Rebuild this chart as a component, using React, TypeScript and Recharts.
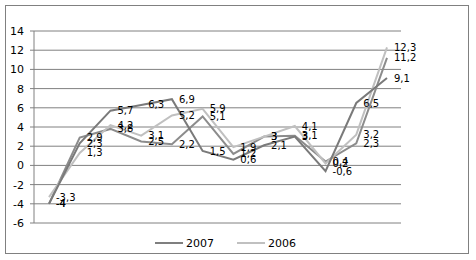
import React from "react";
import { LineChart, Line, XAxis, YAxis, CartesianGrid, LabelList } from "recharts";

const categories = ["1", "2", "3", "4", "5", "6", "7", "8", "9", "10", "11", "12"];
const values2007 = [-4, 2.3, 5.7, 6.3, 6.9, 1.5, 0.6, 2.1, 3, -0.6, 6.5, 9.1];
const valuesOther = [-4, 2.9, 3.8, 2.5, 2.2, 5.1, 1.2, 3, 3.1, 0.4, 2.3, 11.2];
const values2006 = [-3.3, 1.3, 4.2, 3.1, 5.2, 5.9, 1.9, 3, 4.1, 0.2, 3.2, 12.3];
const yTicks = [-6, -4, -2, 0, 2, 4, 6, 8, 10, 12, 14];

const legendItems = [
  { name: "2007", color: "#7f7f7f" },
  { name: "2006", color: "#c0c0c0" },
];

const FONT = "'DejaVu Sans', Verdana, sans-serif";

// tabla para recharts
const data = categories.map((c, i) => ({
  cat: c,
  a: values2007[i],
  b: valuesOther[i],
  c: values2006[i],
}));

const renderLabel = (props: any) => {
  const { x, y, value } = props;
  if (value == null) return null;
  return (
    <text x={x + 7} y={y} dominantBaseline="central" fontSize={10} fontFamily={FONT} fill="#000">
      {String(value).replace(".", ",")}
    </text>
  );
};

export default function App() {
  return (
    <div style={{ position: "absolute", left: 0, top: 0, width: 476, height: 260, background: "#fff" }}>
      <div
        style={{
          position: "absolute",
          left: 5,
          top: 5,
          width: 462,
          height: 247,
          border: "1px solid #808080",
        }}
      />
      <div style={{ position: "absolute", left: 0, top: 0 }}>
        <LineChart width={476} height={260} data={data} margin={{ top: 31, right: 75, left: 0, bottom: 37 }}>
          <CartesianGrid vertical={false} stroke="#808080" />
          <XAxis dataKey="cat" hide padding={{ left: 15, right: 14 }} />
          <YAxis
            width={34}
            domain={[-6, 14]}
            ticks={yTicks}
            interval={0}
            tickSize={4}
            tickMargin={6}
            axisLine={{ stroke: "#808080" }}
            tickLine={{ stroke: "#808080" }}
            tick={{ fontSize: 11, fontFamily: FONT, fill: "#000" }}
          />
          <Line dataKey="b" stroke="#8c8c8c" strokeWidth={2} dot={false} isAnimationActive={false}>
            <LabelList dataKey="b" content={renderLabel} />
          </Line>
          <Line dataKey="c" stroke="#c0c0c0" strokeWidth={2} dot={false} isAnimationActive={false}>
            <LabelList dataKey="c" content={renderLabel} />
          </Line>
          <Line dataKey="a" stroke="#7a7a7a" strokeWidth={2} dot={false} isAnimationActive={false}>
            <LabelList dataKey="a" content={renderLabel} />
          </Line>
        </LineChart>
      </div>
      <svg style={{ position: "absolute", left: 0, top: 232 }} width={476} height={22}>
        {legendItems.map((it, i) => {
          const x0 = 155 + i * 82;
          return (
            <g key={it.name}>
              <line x1={x0} x2={x0 + 28} y1={11} y2={11} stroke={it.color} strokeWidth={2} />
              <text x={x0 + 31} y={11} dominantBaseline="central" fontSize={11} fontFamily={FONT} fill="#000">
                {it.name}
              </text>
            </g>
          );
        })}
      </svg>
    </div>
  );
}
